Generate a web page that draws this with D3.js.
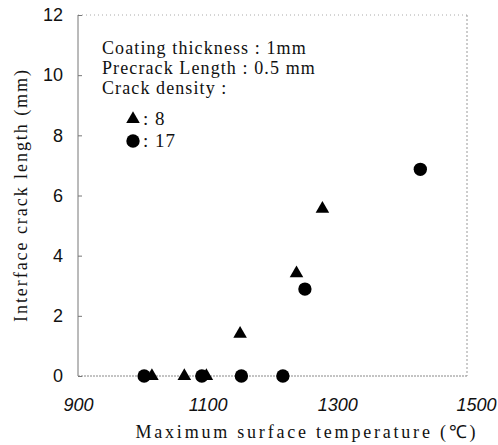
<!DOCTYPE html>
<html>
<head>
  <title>Interface crack length vs Maximum surface temperature</title>
  <script src="https://d3js.org/d3.v7.min.js"></script>
  <style>
    body { margin: 0; background: #fff; }
  </style>
</head>
<body>
  <svg id="chart" width="498" height="445"></svg>

  <script>
    // Data
    var density8Temp = [1014, 1064, 1098, 1150, 1237, 1277];
    var density8Crack = [0, 0, 0, 1.4, 3.41, 5.56];
    var density17Temp = [1002, 1091, 1152, 1216, 1250, 1428];
    var density17Crack = [0, 0, 0, 0, 2.89, 6.87];
    var xTicks = [900, 1100, 1300, 1500];
    var yTicks = [0, 2, 4, 6, 8, 10, 12];
    var notes = ["Coating thickness : 1mm", "Precrack Length : 0.5 mm", "Crack density :"];
    var legendLabels = [": 8", ": 17"];

    var margin = { top: 15, right: 31, bottom: 69, left: 78 };
    var width = 498 - margin.left - margin.right;
    var height = 445 - margin.top - margin.bottom;

    var svg = d3.select("#chart")
      .append("g")
      .attr("transform", "translate(" + margin.left + "," + margin.top + ")");

    var x = d3.scaleLinear().domain([900, 1500]).range([0, width]);
    var y = d3.scaleLinear().domain([0, 12]).range([height, 0]);

    // frame: solid left, dotted elsewhere
    svg.append("line")
      .attr("x1", 0).attr("x2", 0).attr("y1", 0).attr("y2", height)
      .attr("stroke", "#777").attr("stroke-width", 1);
    svg.append("line")
      .attr("x1", 0).attr("x2", width).attr("y1", height).attr("y2", height)
      .attr("stroke", "#888").attr("stroke-width", 1).attr("stroke-dasharray", "2,1");
    svg.append("line")
      .attr("x1", 0).attr("x2", width).attr("y1", 0).attr("y2", 0)
      .attr("stroke", "#aaa").attr("stroke-width", 1).attr("stroke-dasharray", "1,3");
    svg.append("line")
      .attr("x1", width).attr("x2", width).attr("y1", 0).attr("y2", height)
      .attr("stroke", "#999").attr("stroke-width", 1).attr("stroke-dasharray", "2,2");

    // y axis
    var yAxis = d3.axisLeft(y).tickValues(yTicks).tickSize(-4).tickPadding(15);
    var gy = svg.append("g").call(yAxis);
    gy.select(".domain").remove();
    gy.selectAll(".tick line").attr("stroke", "#777");
    gy.selectAll(".tick text")
      .attr("font-family", "Liberation Sans, Arial, sans-serif")
      .attr("font-size", "18px")
      .attr("fill", "#111");

    // x axis
    var xAxis = d3.axisBottom(x).tickValues(xTicks).tickFormat(d3.format("d")).tickSize(0).tickPadding(22);
    var gx = svg.append("g").attr("transform", "translate(0," + height + ")").call(xAxis);
    gx.select(".domain").remove();
    gx.selectAll(".tick text")
      .attr("font-family", "Liberation Sans, Arial, sans-serif")
      .attr("font-style", "italic")
      .attr("font-size", "18px")
      .attr("fill", "#111")
      .attr("dx", function(d) { return d === 1500 ? 9 : 0; });

    // axis titles
    svg.append("text")
      .attr("x", width / 2 + 33)
      .attr("y", height + 62)
      .attr("text-anchor", "middle")
      .attr("font-family", "Liberation Serif, Times New Roman, serif")
      .attr("font-size", "18px")
      .attr("textLength", 340)
      .attr("lengthAdjust", "spacing")
      .attr("fill", "#111")
      .text("Maximum surface temperature (℃)");

    svg.append("text")
      .attr("transform", "rotate(-90)")
      .attr("x", -181)
      .attr("y", -margin.left + 27)
      .attr("text-anchor", "middle")
      .attr("font-family", "Liberation Serif, Times New Roman, serif")
      .attr("font-size", "18px")
      .attr("textLength", 252)
      .attr("lengthAdjust", "spacing")
      .attr("fill", "#111")
      .text("Interface crack length (mm)");

    // annotation text
    svg.selectAll("text.note")
      .data(notes)
      .enter()
      .append("text")
      .attr("class", "note")
      .attr("x", 24)
      .attr("y", function(d, i) { return 39 + i * 20; })
      .attr("font-family", "Liberation Serif, Times New Roman, serif")
      .attr("font-size", "18px")
      .attr("letter-spacing", "1.1px")
      .attr("fill", "#111")
      .text(function(d) { return d; });

    var triangle = d3.symbol().type(d3.symbolTriangle).size(80);
    var circle = d3.symbol().type(d3.symbolCircle).size(140);

    // legend
    var legendSymbols = [triangle, circle];
    legendSymbols.forEach(function(sym, i) {
      svg.append("path")
        .attr("d", sym())
        .attr("transform", "translate(" + 55 + "," + (104 + i * 22) + ")")
        .attr("fill", "#000");
    });
    svg.selectAll("text.legend")
      .data(legendLabels)
      .enter()
      .append("text")
      .attr("class", "legend")
      .attr("x", 65)
      .attr("y", function(d, i) { return 110 + i * 22; })
      .attr("font-family", "Liberation Serif, Times New Roman, serif")
      .attr("font-size", "19px")
      .attr("letter-spacing", "1px")
      .attr("fill", "#111")
      .text(function(d) { return d; });

    // points
    svg.selectAll("path.d17")
      .data(density17Temp)
      .enter()
      .append("path")
      .attr("class", "d17")
      .attr("d", circle())
      .attr("transform", function(d, i) { return "translate(" + x(d) + "," + y(density17Crack[i]) + ")"; })
      .attr("fill", "#000");

    svg.selectAll("path.d8")
      .data(density8Temp)
      .enter()
      .append("path")
      .attr("class", "d8")
      .attr("d", triangle())
      .attr("transform", function(d, i) { return "translate(" + x(d) + "," + y(density8Crack[i]) + ")"; })
      .attr("fill", "#000");
  </script>
</body>
</html>
